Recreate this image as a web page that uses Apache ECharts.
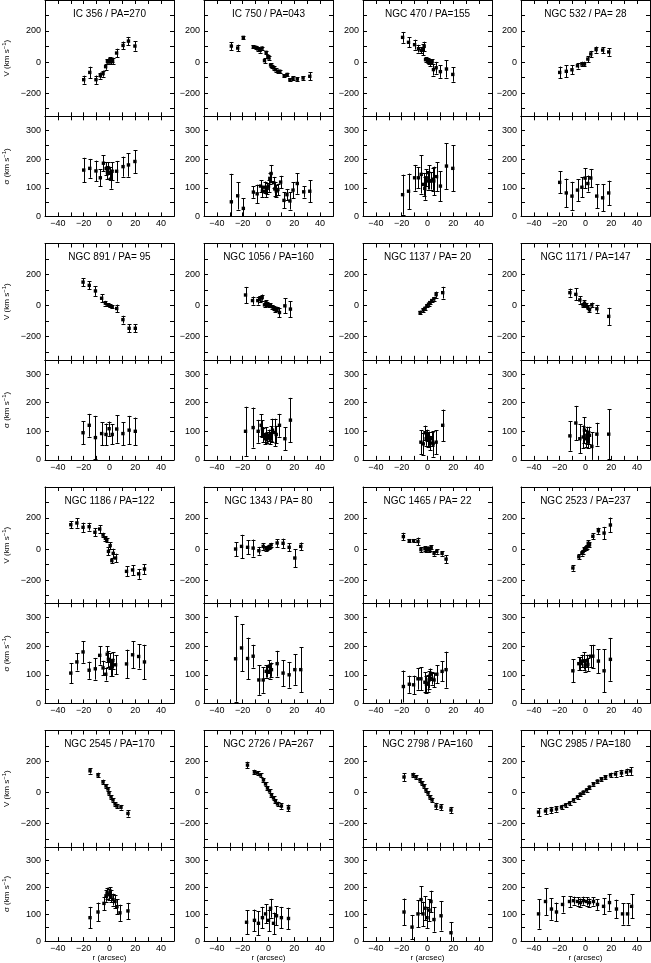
<!DOCTYPE html>
<html>
<head>
<meta charset="utf-8">
<script src="https://cdn.jsdelivr.net/npm/echarts@6/dist/echarts.min.js"></script>
<style>html,body{margin:0;padding:0;background:#fff}#chart{width:651px;height:963px}#err{position:absolute;left:0;top:0;font:10px monospace;white-space:pre-wrap;color:red;width:640px}</style>
</head>
<body>
<div id="chart"></div>
<div id="err"></div>
<script>
// each point: [r (arcsec), value (km/s), error (km/s)]
var v_IC356 = [[-20,-114,26],[-15.3,-67,37],[-10.5,-114,27],[-7.1,-88,20],[-5,-75,20],[-3,-30,20],[-1.6,4,15],[-0.8,2,12],[0.3,15,15],[1,0,15],[1.8,13,15],[2.4,8,20],[5.5,58,28],[10.5,107,25],[14.7,135,27],[19.7,103,30]];
var s_IC356 = [[-20,162,43],[-15.3,168,33],[-10.5,159,36],[-7.1,135,30],[-4.7,186,28],[-2.6,167,22],[-1.6,153,23],[-0.8,169,20],[0,153,20],[0.8,130,33],[2,158,32],[5.5,158,36],[10.5,174,35],[14.7,180,41],[19.7,192,40]];

var v_IC750 = [[-28.8,103,25],[-23.9,90,22],[-19.5,159,8],[-11.7,99,8],[-10,95,8],[-8.3,84,15],[-6.5,75,15],[-5,90,10],[-3.1,9,15],[-1.8,62,10],[-0.5,37,10],[0.3,26,10],[1.6,-19,12],[2.6,-28,12],[4.2,-39,12],[5.5,-50,12],[7.3,-60,10],[8.8,-60,10],[12.2,-88,10],[14.5,-80,10],[16.6,-114,10],[19,-105,12],[22.3,-110,12],[26.8,-103,12],[32,-92,25]];
var s_IC750 = [[-28.8,51,98],[-23.9,72,48],[-19.5,28,35],[-11.7,85,20],[-8.8,79,32],[-6.2,106,20],[-4.7,88,20],[-3.1,102,20],[-2.3,88,20],[-1,98,20],[0,106,20],[1,133,18],[2,150,30],[3.9,118,20],[4.9,96,25],[6,89,20],[7.3,94,20],[9.4,120,22],[12,56,28],[14.3,76,20],[16.6,54,30],[19,92,28],[22.3,115,36],[27.3,86,20],[32,88,38]];

var v_N470 = [[-19.3,159,35],[-14.7,127,32],[-10,112,32],[-7,86,25],[-4.9,75,20],[-3.6,80,35],[-2.6,101,30],[-1.5,15,15],[0,9,15],[1.3,2,15],[2.3,-6,22],[3.6,2,15],[4.6,-49,38],[6.7,-37,38],[10,-62,40],[14.7,-45,55],[19.6,-80,47]];
var s_N470 = [[-19.3,76,70],[-14.7,88,62],[-10,135,45],[-7,135,37],[-4.9,147,67],[-3.1,112,40],[-2.1,98,40],[-1,135,30],[0,124,30],[0.8,153,25],[1.5,124,30],[2.6,124,30],[3.9,130,40],[4.9,124,50],[7,139,50],[10,106,52],[14.7,176,80],[19.6,168,80]];

var v_N532 = [[-20,-67,38],[-14.9,-60,38],[-10.5,-50,28],[-6.2,-24,18],[-2.8,-13,15],[-0.8,-13,15],[1.8,19,20],[4.1,52,20],[8.2,80,20],[13.3,77,20],[18,65,25]];
var s_N532 = [[-20,119,38],[-14.9,82,50],[-10.5,71,50],[-6.2,92,38],[-2.8,102,35],[-0.3,134,35],[1.8,115,28],[4.1,134,32],[8.7,71,42],[13.3,65,47],[18,82,43]];

var v_N891 = [[-20.5,151,26],[-15.7,130,26],[-10.9,94,32],[-6.1,47,26],[-3.2,15,15],[-1.3,4,10],[0.3,-2,10],[2.1,-9,10],[5.6,-19,25],[10.4,-91,25],[15.2,-147,25],[20,-147,25]];
var s_N891 = [[-20.5,95,40],[-15.7,121,40],[-10.9,78,76],[-6.1,92,40],[-2.7,89,38],[-0.3,109,25],[2.1,89,35],[5.6,108,48],[10.4,92,40],[15.2,104,50],[20,100,48]];

var v_N1056 = [[-17.8,68,52],[-12.4,32,26],[-8.3,32,26],[-6.5,40,20],[-4.9,51,20],[-3.1,4,15],[-2,19,15],[-1,11,12],[0.3,4,12],[1.5,2,12],[3.1,-9,12],[4.4,-17,15],[5.4,-28,15],[6.7,-23,15],[8.5,-45,32],[12.7,-2,48],[17,-23,52]];
var s_N1056 = [[-17.8,100,86],[-11.9,113,70],[-8,100,40],[-5.7,121,38],[-4.7,109,30],[-3.9,86,25],[-2.8,74,20],[-1.8,89,25],[-0.8,78,20],[0,86,20],[1,74,20],[2.1,92,25],[3.1,104,40],[4.7,96,48],[6,89,30],[8.5,121,40],[12.7,74,40],[17,139,78]];

var v_N1137 = [[-5.7,-45,12],[-3.3,-28,15],[-1.8,-17,10],[-0.5,-2,10],[0.8,9,10],[1.8,19,10],[3.3,32,10],[4.9,43,12],[6.7,70,20],[11.8,83,38]];
var s_N1137 = [[-5.1,62,42],[-3.3,56,38],[-2,95,25],[-1,74,25],[-0.3,86,20],[0.5,71,25],[1.5,74,25],[2.3,59,25],[3.3,74,25],[4.4,56,45],[6.7,62,42],[11.8,121,55]];

var v_N1171 = [[-12.1,83,26],[-7.5,72,38],[-4.4,36,25],[-2,4,15],[-0.8,15,20],[0.5,4,12],[1.8,-11,12],[3.1,-28,15],[4.9,4,15],[8.8,-21,25],[18,-70,55]];
var s_N1171 = [[-12.1,84,52],[-7.5,129,60],[-4.4,74,50],[-1.8,80,40],[-0.8,104,45],[0.3,74,30],[1,86,30],[2.1,71,30],[3.1,86,30],[4.9,47,50],[8.8,90,40],[18,90,88]];

var v_N1186 = [[-30,157,22],[-25.3,168,30],[-20.5,140,30],[-15.8,144,25],[-11.3,108,25],[-7.6,129,25],[-5,90,15],[-3.2,69,15],[-2.1,58,15],[-0.8,-15,25],[0.5,22,22],[1.8,-75,18],[2.9,-28,30],[4.7,-58,28],[13.2,-144,32],[17.9,-135,32],[22.6,-160,32],[27.1,-129,32]];
var s_N1186 = [[-30,106,35],[-25.3,145,30],[-20.5,180,38],[-15.8,116,30],[-11,121,38],[-7.6,168,32],[-5,124,25],[-2.9,102,22],[-1.8,172,28],[-0.8,154,28],[0,147,28],[0.8,124,28],[1.6,126,30],[2.6,150,28],[4.7,135,33],[13.2,138,50],[17.9,170,47],[22.6,164,42],[27.1,145,60]];

var v_N1343 = [[-25.5,0,45],[-20.9,17,75],[-16.2,11,45],[-11.9,6,55],[-7.5,-11,25],[-4.1,17,22],[-2,4,15],[-1,6,12],[0,11,12],[1,17,12],[2,28,12],[6.7,39,25],[11.3,37,30],[16,11,25],[20.4,-58,58],[25,17,25]];
var s_N1343 = [[-25.5,156,150],[-20.9,194,82],[-16.2,157,73],[-11.9,165,40],[-7.5,82,52],[-4.1,82,45],[-1.8,112,22],[-0.8,112,22],[0.3,129,22],[1.3,112,25],[2.3,118,25],[6.7,139,45],[11.3,106,45],[16,100,45],[20.4,118,53],[25,118,78]];

var v_N1465 = [[-18.7,80,25],[-14.1,54,10],[-10.8,54,10],[-7.4,49,25],[-5.1,-4,15],[-2,2,15],[-0.8,-4,12],[0,4,12],[0.8,-6,12],[1.8,0,12],[2.8,11,12],[5.1,-28,15],[7.2,-15,15],[11.3,-28,15],[14.4,-65,25]];
var s_N1465 = [[-18.7,59,56],[-14.1,67,30],[-10.8,65,32],[-7.4,86,38],[-5.1,86,40],[-2,74,35],[-0.8,67,30],[0.3,71,30],[1.3,82,30],[2.3,102,20],[3.3,88,22],[5.1,82,25],[7.2,102,32],[11.3,112,35],[14.4,118,63]];

var v_N2523 = [[-9.8,-122,18],[-5.2,-50,15],[-2.8,-28,15],[-1.8,-17,12],[-0.8,-2,12],[0.3,6,12],[1.3,15,12],[2.1,37,20],[3.1,28,15],[5.7,82,20],[10,118,20],[14.4,103,40],[19.3,155,48]];
var s_N2523 = [[-9.8,114,40],[-5.2,139,22],[-3.9,139,22],[-2.6,148,22],[-1.3,148,30],[-0.3,133,22],[0.8,148,22],[1.8,136,22],[3.9,165,38],[5.7,165,40],[10,148,42],[14.4,114,75],[19.3,154,75]];

var v_N2545 = [[-15.1,140,18],[-8.9,113,15],[-5,68,15],[-2.7,42,12],[-1.2,23,12],[-0.4,-3,12],[1.2,-29,12],[2.7,-48,12],[4.3,-74,12],[5.8,-87,15],[8.9,-95,15],[14.3,-135,20]];
var s_N2545 = [[-15.1,87,40],[-8.9,108,35],[-4.3,140,25],[-2.7,168,22],[-1.9,178,20],[-0.4,172,20],[0.4,180,20],[1.2,166,22],[2.7,154,22],[4.3,147,25],[5.8,128,28],[8.1,105,30],[14.3,112,30]];

var v_N2726 = [[-16.3,177,22],[-10.9,132,15],[-8.5,126,12],[-6.2,113,12],[-3.9,81,12],[-2.3,55,12],[-0.8,29,12],[0.8,10,12],[2.3,-16,12],[3.9,-35,12],[5.4,-55,12],[7,-74,15],[10,-87,18],[15.5,-100,22]];
var s_N2726 = [[-17,70,45],[-10.9,77,40],[-7.8,66,45],[-4.7,87,40],[-2.3,101,35],[0,77,40],[1.6,122,35],[3.9,66,40],[6.2,94,35],[10,87,40],[15.5,84,40]];

var v_N2798 = [[-18.2,100,25],[-11.2,113,15],[-8.9,100,12],[-5.8,81,12],[-4.3,61,12],[-2.7,42,12],[-1.2,16,12],[0.4,-3,12],[1.9,-29,12],[3.5,-48,15],[6.6,-87,20],[10.5,-94,20],[18.2,-113,20]];
var s_N2798 = [[-18.2,108,50],[-12,52,45],[-7.4,101,50],[-5,154,50],[-3.5,101,45],[-2,122,45],[-0.4,87,40],[1.2,115,40],[2.7,147,40],[5,80,45],[10.5,94,55],[18.2,31,40]];

var v_N2985 = [[-36.4,-126,25],[-31,-119,22],[-26.4,-113,20],[-22.5,-106,18],[-18.6,-94,15],[-15.5,-81,12],[-12.4,-68,12],[-9.3,-48,10],[-6.2,-29,10],[-3.9,-10,10],[-1.6,3,10],[0.8,16,10],[3.1,35,10],[6.2,55,10],[9.3,74,10],[12.4,87,12],[15.5,100,12],[19.4,113,15],[23.3,119,18],[27.9,126,20],[31.8,132,22],[34.9,139,25]];
var s_N2985 = [[-36.4,101,55],[-31,147,50],[-26.4,119,40],[-22.5,108,35],[-17.8,136,30],[-12.4,147,20],[-9.3,150,15],[-6.2,147,15],[-3.9,143,15],[-1.6,150,15],[0.8,147,15],[3.1,143,15],[6.2,147,15],[9.3,136,20],[14,129,30],[18.6,143,30],[24,119,35],[28.7,101,40],[32.6,101,40],[35.7,129,45]];

var titles = ['IC 356 / PA=270','IC 750 / PA=043','NGC 470 / PA=155','NGC 532 / PA= 28',
              'NGC 891 / PA= 95','NGC 1056 / PA=160','NGC 1137 / PA= 20','NGC 1171 / PA=147',
              'NGC 1186 / PA=122','NGC 1343 / PA= 80','NGC 1465 / PA= 22','NGC 2523 / PA=237',
              'NGC 2545 / PA=170','NGC 2726 / PA=267','NGC 2798 / PA=160','NGC 2985 / PA=180'];
var velocity = [v_IC356,v_IC750,v_N470,v_N532,v_N891,v_N1056,v_N1137,v_N1171,v_N1186,v_N1343,v_N1465,v_N2523,v_N2545,v_N2726,v_N2798,v_N2985];
var dispersion = [s_IC356,s_IC750,s_N470,s_N532,s_N891,s_N1056,s_N1137,s_N1171,s_N1186,s_N1343,s_N1465,s_N2523,s_N2545,s_N2726,s_N2798,s_N2985];

var xTicks = [-40,-30,-20,-10,0,10,20,30,40];
var xLabels = [-40,-20,0,20,40];
var vTicks = [-300,-200,-100,0,100,200,300];
var vLabels = [-200,0,200];
var sTicks = [50,100,150,200,250,300];
var sLabels = [0,100,200,300];

// layout
var colLeft = [45, 204, 363, 521];
var rowTop = [0, 243.5, 487, 730.5];
var panelW = 129, vH = 116.3, sH = 100.1;
var FONT = 'Liberation Sans';

function minus(v){ return String(v).replace('-', '\u2212'); }
function ls(){ return {color:'#000', width:1}; }

function errBar(params, api){
    var x = api.value(0), y = api.value(1), e = api.value(2);
    var c = api.coord([x, y]);
    var hi = api.coord([x, y + e]);
    var lo = api.coord([x, y - e]);
    var cs = params.coordSys;
    var px = Math.round(c[0]) + 0.5;
    var kids = [];
    var y1 = Math.max(hi[1], cs.y), y2 = Math.min(lo[1], cs.y + cs.height);
    kids.push({type:'line', shape:{x1:px, y1:y1, x2:px, y2:y2}, style:{stroke:'#000', lineWidth:1}});
    if (hi[1] >= cs.y) {
        var yt = Math.round(hi[1]) + 0.5;
        kids.push({type:'line', shape:{x1:px-2, y1:yt, x2:px+2, y2:yt}, style:{stroke:'#000', lineWidth:1}});
    }
    if (lo[1] <= cs.y + cs.height) {
        var yb = Math.round(lo[1]) + 0.5;
        kids.push({type:'line', shape:{x1:px-2, y1:yb, x2:px+2, y2:yb}, style:{stroke:'#000', lineWidth:1}});
    }
    kids.push({type:'rect', shape:{x:c[0]-1.7, y:c[1]-1.7, width:3.4, height:3.4}, style:{fill:'#000'}});
    return {type:'group', children:kids};
}

var grids = [], xAxes = [], yAxes = [], series = [], graphics = [];

function addPanel(gi, gx, gy, h, isV, col, row, data){
    grids.push({left:gx, top:gy, width:panelW, height:h});
    var xb = {
        type:'value', gridIndex:gi, position:'bottom', min:-50, max:50,
        axisLine:{show:true, onZero:false, lineStyle:ls()},
        axisTick:{show:true, inside:true, length:4, customValues:xTicks.slice(), lineStyle:ls()},
        axisLabel:{show:!isV, customValues:xLabels.slice(), margin:3, fontSize:9, fontFamily:FONT, color:'#000', formatter:minus},
        splitLine:{show:false}
    };
    if (!isV && row === 3) {
        xb.name = 'r (arcsec)';
        xb.nameLocation = 'middle';
        xb.nameGap = 10;
        xb.nameTextStyle = {fontSize:8, fontFamily:FONT, color:'#000'};
    }
    xAxes.push(xb);
    xAxes.push({
        type:'value', gridIndex:gi, position:'top', min:-50, max:50,
        axisLine:{show:true, onZero:false, lineStyle:ls()},
        axisTick:{show:true, inside:true, length:4, customValues:xTicks.slice(), lineStyle:ls()},
        axisLabel:{show:false}, splitLine:{show:false}
    });
    var yl = {
        type:'value', gridIndex:gi, position:'left',
        min: isV ? -350 : 0, max: isV ? 400 : 350,
        axisLine:{show:true, onZero:false, lineStyle:ls()},
        axisTick:{show:true, inside:true, length:4, customValues:(isV ? vTicks : sTicks).slice(), lineStyle:ls()},
        axisLabel:{show:true, customValues:(isV ? vLabels : sLabels).slice(), margin:4, fontSize:9, fontFamily:FONT, color:'#000', formatter:minus},
        splitLine:{show:false}
    };
    if (col === 0) {
        yl.name = isV ? 'V (km s{sup|\u22121})' : '\u03c3 (km s{sup|\u22121})';
        yl.nameLocation = 'middle';
        yl.nameGap = 33;
        yl.nameTextStyle = {fontSize:8, fontFamily:FONT, color:'#000',
            rich:{sup:{fontSize:6, fontFamily:FONT, color:'#000', padding:[0,0,5,0]}}};
    }
    yAxes.push(yl);
    yAxes.push({
        type:'value', gridIndex:gi, position:'right',
        min: isV ? -350 : 0, max: isV ? 400 : 350,
        axisLine:{show:true, onZero:false, lineStyle:ls()},
        axisTick:{show:true, inside:true, length:4, customValues:(isV ? vTicks : sTicks).slice(), lineStyle:ls()},
        axisLabel:{show:false}, splitLine:{show:false}
    });
    series.push({
        type:'custom', xAxisIndex:2*gi, yAxisIndex:2*gi,
        renderItem:errBar, encode:{x:0, y:1}, data:data, z:5, silent:true
    });
}

function build(){
    for (var i = 0; i < 16; i++) {
        var row = Math.floor(i / 4), col = i % 4;
        var gx = colLeft[col], gy = rowTop[row];
        addPanel(2*i, gx, gy, vH, true, col, row, velocity[i]);
        addPanel(2*i+1, gx, gy + vH, sH, false, col, row, dispersion[i]);
        graphics.push({
            type:'text', x:gx + panelW/2, y:gy + 14, z:10,
            style:{text:titles[i], font:'10px "' + FONT + '"', fill:'#000', align:'center', verticalAlign:'middle'}
        });
    }
}

try {
    build();
    var chart = echarts.init(document.getElementById('chart'), null, {renderer:'canvas'});
    chart.setOption({
        animation:false,
        backgroundColor:'#fff',
        grid:grids, xAxis:xAxes, yAxis:yAxes, series:series, graphic:graphics
    });
} catch (err) {
    document.getElementById('err').textContent = String(err && err.stack || err).slice(0, 1500);
}
</script>
</body>
</html>
